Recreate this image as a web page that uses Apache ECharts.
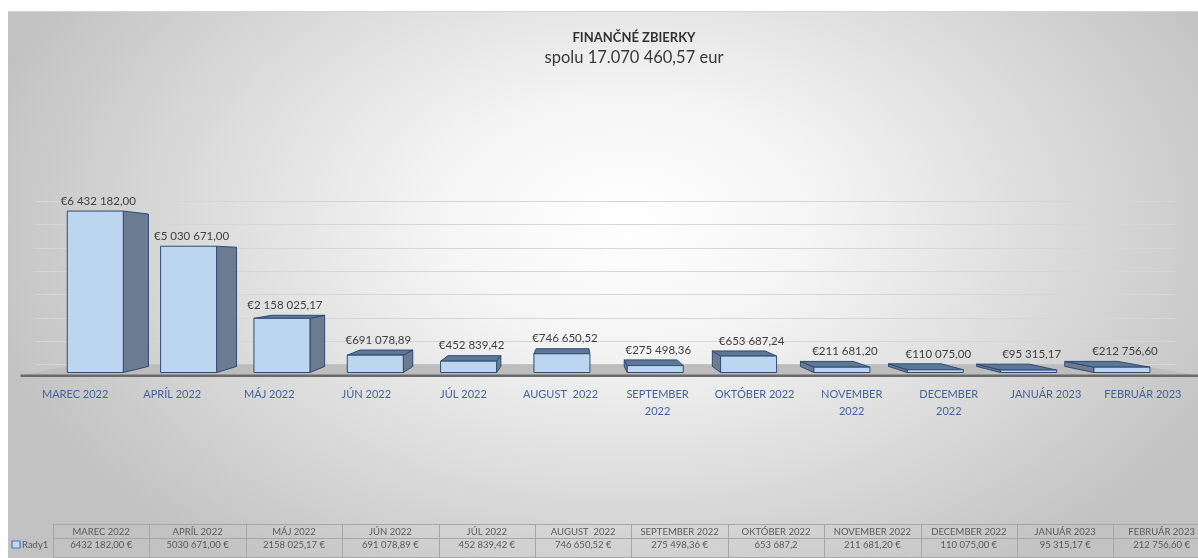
<!DOCTYPE html>
<html lang="sk">
<head>
<meta charset="UTF-8">
<title>Finančné zbierky</title>
<script src="https://cdn.jsdelivr.net/npm/echarts@6/dist/echarts.min.js"></script>
<style>
  html, body { margin: 0; padding: 0; background: #fff; }
  #chart {
    position: absolute; left: 8px; top: 12px; width: 1190px; height: 546px;
    box-shadow: 0 -1px 0 #d4d4d4;
    background: radial-gradient(ellipse 56% 78% at 52% 38%, #ffffff 0%, #f5f5f5 28%, #c2c2c2 100%);
  }
</style>
</head>
<body>
<div id="chart"></div>
<script>
  // mesiace a vyzbierane sumy
  const categories = ['MAREC 2022', 'APRÍL 2022', 'MÁJ 2022', 'JÚN 2022', 'JÚL 2022', 'AUGUST  2022',
    'SEPTEMBER\n2022', 'OKTÓBER 2022', 'NOVEMBER\n2022', 'DECEMBER\n2022', 'JANUÁR 2023', 'FEBRUÁR 2023'];
  const values = [6432182.00, 5030671.00, 2158025.17, 691078.89, 452839.42, 746650.52,
    275498.36, 653687.24, 211681.20, 110075.00, 95315.17, 212756.60];
  const tableValues = ['6432 182,00 €', '5030 671,00 €', '2158 025,17 €', '691 078,89 €', '452 839,42 €',
    '746 650,52 €', '275 498,36 €', '653 687,2', '211 681,20 €', '110 075,00 €', '95 315,17 €', '212 756,60 €'];
  const seriesName = 'Rady1';

  const FONT = 'Lato, "Noto Sans", sans-serif';
  const VP = [565, 252];   // úbežník pre 3D pohľad
  const DEPTH = 0.056;

  function proj(p, t) {
    return [p[0] + (VP[0] - p[0]) * t, p[1] + (VP[1] - p[1]) * t];
  }

  function formatEur(v) {
    const parts = v.toFixed(2).split('.');
    return '€' + parts[0].replace(/\B(?=(\d{3})+(?!\d))/g, ' ') + ',' + parts[1];
  }

  const chart = echarts.init(document.getElementById('chart'));

  function renderFloor(params, api) {
    const n = categories.length;
    const band = api.size([1, 0])[0];
    const a = api.coord([0, 0]);
    const b = api.coord([n - 1, 0]);
    const L = [a[0] - band / 2 - 12, a[1]];
    const R = [b[0] + band / 2 + 12, b[1]];
    const fl = proj(L, -0.03), fr = proj(R, -0.03);
    const bl = proj(L, 0.075), br = proj(R, 0.075);
    return {
      type: 'group',
      children: [
        { type: 'polygon', shape: { points: [fl, fr, br, bl] }, style: { fill: '#bdbdbd' } },
        { type: 'line', shape: { x1: fl[0], y1: fl[1], x2: fr[0], y2: fr[1] },
          style: { stroke: '#6a6a6a', lineWidth: 2.5 } }
      ]
    };
  }

  function renderBar(params, api) {
    const i = api.value(0);
    const v = api.value(1);
    const base = api.coord([i, 0]);
    const top = api.coord([i, v]);
    const w = api.size([1, 0])[0] * 0.6;
    const xl = base[0] - w / 2, xr = base[0] + w / 2;
    const fTL = [xl, top[1]], fTR = [xr, top[1]], fBL = [xl, base[1]], fBR = [xr, base[1]];
    const bTL = proj(fTL, DEPTH), bTR = proj(fTR, DEPTH), bBL = proj(fBL, DEPTH), bBR = proj(fBR, DEPTH);
    const edge = { stroke: '#2f4b72', lineWidth: 1, lineJoin: 'round' };
    const children = [];
    if (VP[0] > xr) {
      children.push({ type: 'polygon', shape: { points: [fTR, bTR, bBR, fBR] },
        style: Object.assign({ fill: '#6b7c92' }, edge) });
    }
    if (VP[0] < xl) {
      children.push({ type: 'polygon', shape: { points: [fTL, bTL, bBL, fBL] },
        style: Object.assign({ fill: '#6b7c92' }, edge) });
    }
    if (bTL[1] < fTL[1]) {
      children.push({ type: 'polygon', shape: { points: [fTL, fTR, bTR, bTL] },
        style: Object.assign({ fill: '#5d7797' }, edge) });
    }
    children.push({ type: 'rect', shape: { x: xl, y: top[1], width: w, height: base[1] - top[1] },
      style: Object.assign({ fill: '#bdd6ef' }, edge) });

    const labelY = Math.min(fTL[1], bTL[1]) - 10;
    children.push({ type: 'text', style: {
      text: formatEur(v), x: base[0] + 3, y: labelY, align: 'center', verticalAlign: 'middle',
      fill: '#404040', fontSize: 11.5, fontFamily: FONT } });

    const catPos = proj(base, -0.04);
    children.push({ type: 'text', style: {
      text: categories[i], x: catPos[0] - 1, y: catPos[1] + 9, align: 'center', verticalAlign: 'top',
      fill: '#46639a', fontSize: 11, lineHeight: 17, fontFamily: FONT } });
    return { type: 'group', children: children };
  }

  // datová tabuľka pod grafom
  const tableX = 45, colW = 96.4, rowTop = 512, rowMid = 526, rowBot = 545;
  const tableGraphics = [];
  const lineStyle = { stroke: '#a6a6a6', lineWidth: 1 };
  [rowTop, rowMid, rowBot].forEach(y => {
    tableGraphics.push({ type: 'line', shape: { x1: tableX, y1: y + 0.5, x2: 1190, y2: y + 0.5 }, style: lineStyle, silent: true });
  });
  for (let i = 0; i <= categories.length; i++) {
    const x = Math.round(tableX + i * colW) + 0.5;
    tableGraphics.push({ type: 'line', shape: { x1: x, y1: rowTop, x2: x, y2: rowBot }, style: lineStyle, silent: true });
  }
  categories.forEach((c, i) => {
    const cx = tableX + i * colW + colW / 2;
    tableGraphics.push({ type: 'text', silent: true, style: {
      text: c.replace('\n', ' '), x: cx, y: (rowTop + rowMid) / 2 + 1, align: 'center', verticalAlign: 'middle',
      fill: '#595959', fontSize: 9.5, fontFamily: FONT } });
    tableGraphics.push({ type: 'text', silent: true, style: {
      text: tableValues[i], x: cx, y: rowMid + 7, align: 'center', verticalAlign: 'middle',
      fill: '#595959', fontSize: 9.5, fontFamily: FONT } });
  });
  tableGraphics.push({ type: 'rect', shape: { x: 4, y: 529, width: 8, height: 7 },
    style: { fill: '#c5d9f1', stroke: '#4472c4', lineWidth: 1.2 }, silent: true });
  tableGraphics.push({ type: 'text', silent: true, style: {
    text: seriesName, x: 14, y: rowMid + 7, align: 'left', verticalAlign: 'middle',
    fill: '#595959', fontSize: 9.5, fontFamily: FONT } });

  const option = {
    backgroundColor: 'transparent',
    animation: false,
    title: {
      text: 'FINANČNÉ ZBIERKY',
      subtext: 'spolu 17.070 460,57 eur',
      left: 621,
      top: 14,
      textAlign: 'center',
      itemGap: 5,
      textStyle: { fontSize: 13, fontWeight: 'bold', color: '#333333', fontFamily: FONT },
      subtextStyle: { fontSize: 16.5, color: '#3a3a3a', fontFamily: FONT }
    },
    grid: [
      { left: 40.6, right: 29.4, top: 184.8, bottom: 185.5 },
      { left: 28, right: 23, top: 189.3, bottom: 193.6 }
    ],
    xAxis: [
      { type: 'category', data: categories, gridIndex: 0, show: false },
      { type: 'category', data: categories, gridIndex: 1, show: false }
    ],
    yAxis: [
      { type: 'value', gridIndex: 0, min: 0, max: 7000000, show: false },
      { type: 'value', gridIndex: 1, min: 0, max: 7000000, interval: 1000000,
        axisLabel: { show: false }, axisLine: { show: false }, axisTick: { show: false },
        splitLine: { show: true, lineStyle: { color: '#d6d6d6', width: 1 } } }
    ],
    graphic: tableGraphics,
    series: [
      { type: 'custom', name: 'floor', xAxisIndex: 0, yAxisIndex: 0, z: 1, silent: true,
        renderItem: renderFloor, data: [[0, 0]] },
      { type: 'custom', name: seriesName, xAxisIndex: 0, yAxisIndex: 0, z: 2,
        renderItem: renderBar, data: values.map((v, i) => [i, v]) }
    ]
  };
  chart.setOption(option);
</script>
</body>
</html>
